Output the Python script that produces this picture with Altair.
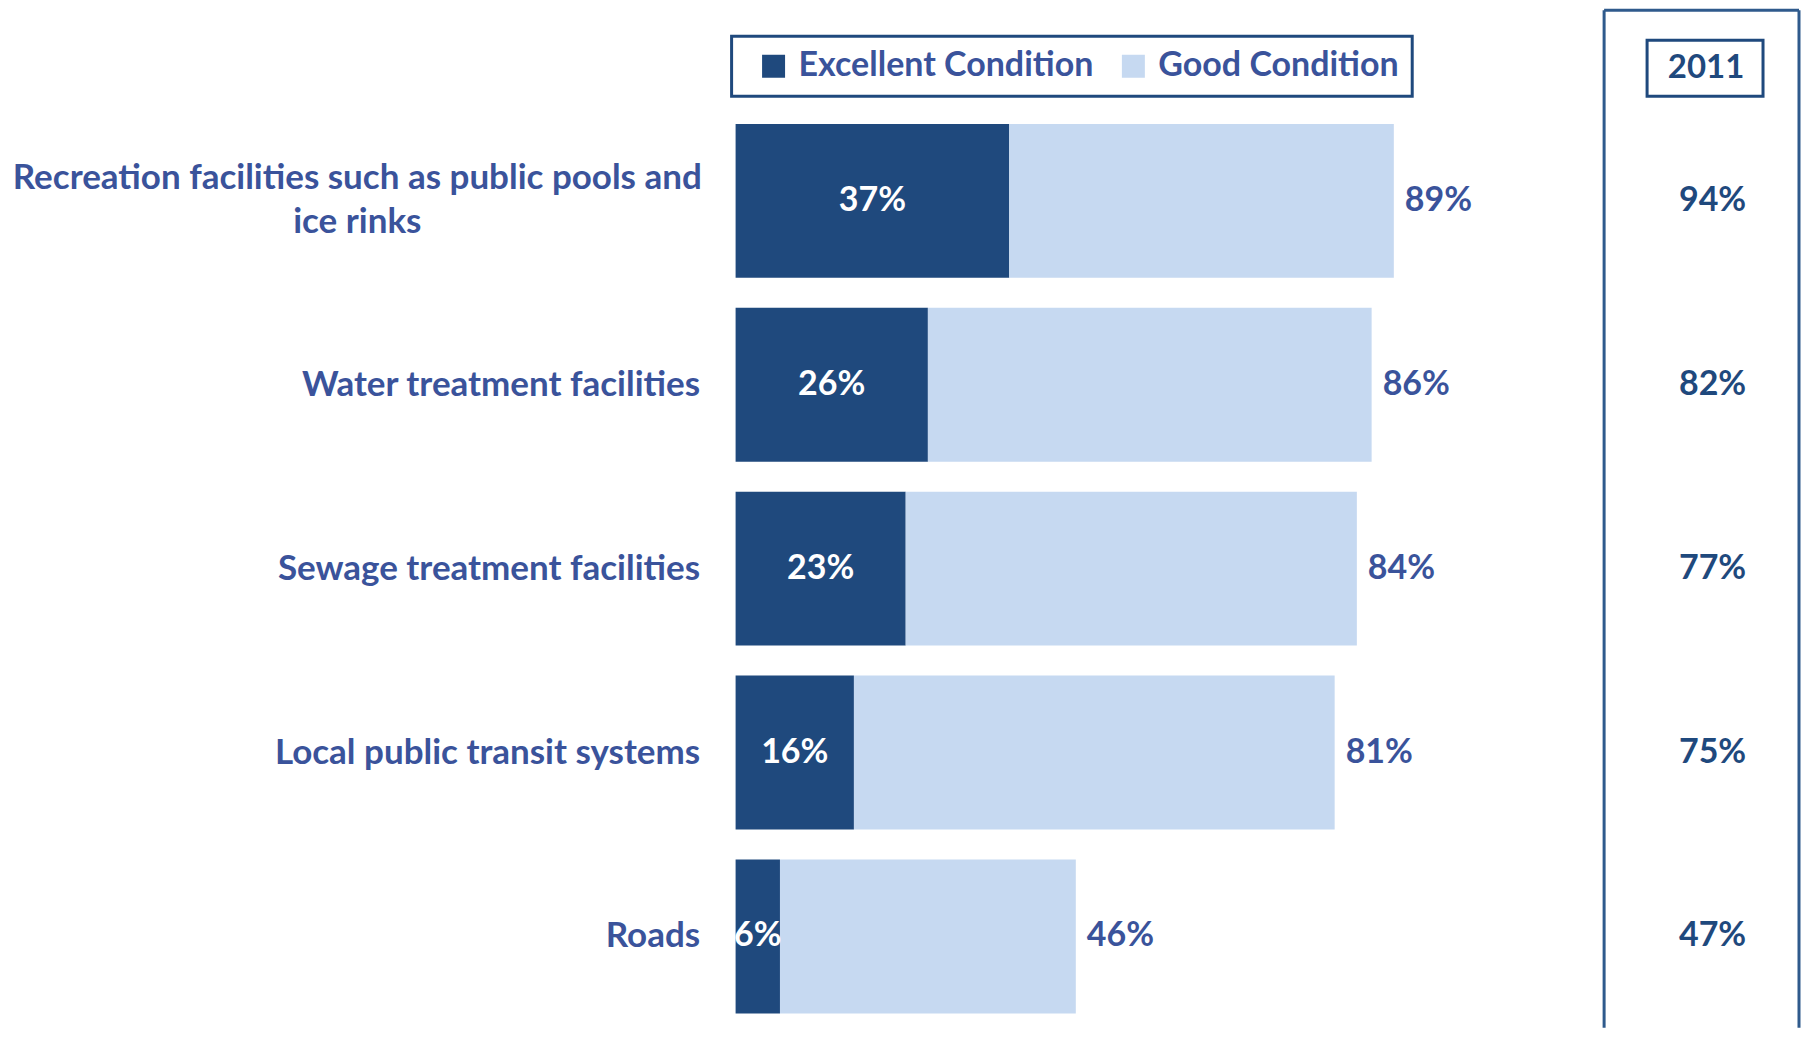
import altair as alt
import pandas as pd

categories = [
    "Recreation facilities such as public pools and\nice rinks",
    "Water treatment facilities",
    "Sewage treatment facilities",
    "Local public transit systems",
    "Roads",
]
excellent = [37, 26, 23, 16, 6]
total = [89, 86, 84, 81, 46]
year2011 = [94, 82, 77, 75, 47]
series = ["Excellent Condition", "Good Condition"]
header = "2011"

DARK = "#1F497D"
LIGHT = "#C6D9F1"
LABEL = "#3A539B"
FONT = "Lato"
FS = 34
H = 1018

rows = []
for c, e, t in zip(categories, excellent, total):
    rows.append({"cat": c, "series": series[0], "start": 0, "end": e, "label": f"{e}%"})
    rows.append({"cat": c, "series": series[1], "start": e, "end": t, "label": f"{t}%"})
bars_df = pd.DataFrame(rows)
tot_df = pd.DataFrame({"cat": categories, "total": total, "label": [f"{t}%" for t in total]})
exc_df = pd.DataFrame({"cat": categories, "exc": excellent, "label": [f"{e}%" for e in excellent]})
y11_df = pd.DataFrame({"cat": categories, "v": year2011, "label": [f"{v}%" for v in year2011]})

def yscale():
    return alt.Scale(type="band", domain=categories, paddingInner=0.163, paddingOuter=0.3478, align=0.888)

xscale = alt.Scale(domain=[0, 100], nice=False, zero=True)

TEST = "indexof(datum.value, 'Recreation') >= 0"
yaxis = alt.Axis(
    title=None, domain=False, ticks=False,
    labelFont=FONT, labelFontSize=35, labelFontWeight="bold", labelColor=LABEL,
    labelLimit=1000, labelLineHeight=44,
    labelAlign={"condition": {"test": TEST, "value": "center"}, "value": "right"},
    labelPadding={"condition": {"test": TEST, "value": 379}, "value": 36},
    labelOffset={"condition": {"test": TEST, "value": -23}, "value": 0},
    labelExpr="split(datum.label, '\\n')",
)

bars = alt.Chart(bars_df).mark_bar(size=154).encode(
    y=alt.Y("cat:N", scale=yscale(), axis=yaxis, sort=categories),
    x=alt.X("start:Q", scale=xscale, axis=None),
    x2="end:Q",
    color=alt.Color(
        "series:N",
        scale=alt.Scale(domain=series, range=[DARK, LIGHT]),
        legend=alt.Legend(
            title=None, orient="none", direction="horizontal",
            legendX=-4, legendY=26, padding=13,
            strokeColor=DARK, fillColor="white",
            symbolType="square", symbolSize=529, symbolStrokeWidth=0, symbolOffset=12,
            labelFont=FONT, labelFontSize=FS, labelFontWeight="bold", labelColor=LABEL,
            labelOffset=8, columnPadding=10, labelLimit=500,
        ),
    ),
)

exc_text = alt.Chart(exc_df).transform_calculate(mid="datum.exc / 2").mark_text(
    font=FONT, fontSize=FS, fontWeight="bold", color="white", align="center", baseline="middle"
).encode(
    y=alt.Y("cat:N", scale=yscale(), sort=categories),
    x=alt.X("mid:Q", scale=xscale),
    text="label:N",
)

tot_text = alt.Chart(tot_df).mark_text(
    font=FONT, fontSize=FS, fontWeight="bold", color=LABEL, align="left", baseline="middle", dx=11
).encode(
    y=alt.Y("cat:N", scale=yscale(), sort=categories),
    x=alt.X("total:Q", scale=xscale),
    text="label:N",
)

left = alt.layer(bars, exc_text, tot_text).properties(width=740, height=H)

# right-hand 2011 panel
PW = 195
frame_df = pd.DataFrame({"k": [0]})
frame_l = alt.Chart(frame_df).mark_rule(color="#2F5A8C", strokeWidth=3).encode(
    x=alt.value(0), y=alt.value(0), y2=alt.value(H))
frame_r = alt.Chart(frame_df).mark_rule(color="#2F5A8C", strokeWidth=3).encode(
    x=alt.value(PW), y=alt.value(0), y2=alt.value(H))
frame_t = alt.Chart(frame_df).mark_rule(color="#2F5A8C", strokeWidth=3).encode(
    x=alt.value(0), x2=alt.value(PW), y=alt.value(0))
hdr_box = alt.Chart(frame_df).mark_rect(fill="white", stroke=DARK, strokeWidth=3).encode(
    x=alt.value(43), x2=alt.value(159), y=alt.value(30), y2=alt.value(86))
hdr_txt = alt.Chart(pd.DataFrame({"t": [header]})).mark_text(
    font=FONT, fontSize=33, fontWeight="bold", color=DARK, align="center", baseline="middle"
).encode(x=alt.value(102), y=alt.value(58), text="t:N")

y11_text = alt.Chart(y11_df).mark_text(
    font=FONT, fontSize=FS, fontWeight="bold", color=DARK, align="center", baseline="middle", dx=11
).encode(
    y=alt.Y("cat:N", scale=yscale(), axis=None, sort=categories),
    text="label:N",
)

right = alt.layer(frame_l, frame_r, frame_t, hdr_box, hdr_txt, y11_text).properties(width=PW, height=H)

chart = alt.hconcat(left, right, spacing=129, bounds="flush").resolve_scale(
    y="independent", x="independent", color="independent"
).properties(
    padding={"left": 4, "top": 0, "right": 0, "bottom": 0}
).configure_view(stroke=None).configure_legend(strokeWidth=3)

chart.save("out.html", embed_options={"renderer": "svg", "actions": False})
